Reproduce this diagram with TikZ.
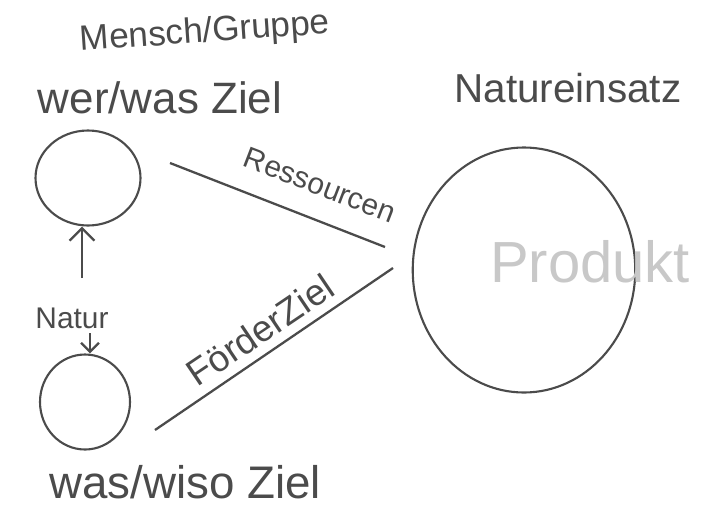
\documentclass[tikz,border=0pt]{standalone}
\usepackage{fontspec}
\setmainfont{Liberation Sans}
\usepackage{tikz}
\usepackage{xcolor}
\usetikzlibrary{positioning, arrows.meta, shapes.geometric}
\definecolor{pencil}{RGB}{75, 75, 75}
\definecolor{faint}{RGB}{200, 200, 200}
\tikzset{
    blob/.style={ellipse, draw=pencil, line width=1.2pt},
    scribble/.style={text=pencil, inner sep=1pt},
    stroke/.style={draw=pencil, line width=1.3pt},
    pointer/.style={stroke, -{Straight Barb[length=2.5mm]}}
}

\begin{document}
\begin{tikzpicture}
    \useasboundingbox (0,0) rectangle (14.3,10.12);
    % the three circles
    \node[blob, minimum width=2.1cm, minimum height=1.9cm] (wer) at (1.76,6.56) {};
    \node[blob, minimum width=1.8cm, minimum height=1.9cm] (was) at (1.70,2.08) {};
    \node[blob, minimum width=4.45cm, minimum height=4.9cm] (prod) at (10.48,4.72) {};

    % headings
    \node[scribble, font=\fontsize{20}{24}\selectfont, rotate=4] (gruppe) at (4.1,9.46) {Mensch/Gruppe};
    \node[scribble, font=\fontsize{25}{30}\selectfont] (werziel) at (3.2,8.16) {wer/was Ziel};
    \node[scribble, font=\fontsize{26}{30}\selectfont] (wasziel) at (3.7,0.48) {was/wiso Ziel};
    \node[scribble, font=\fontsize{23}{28}\selectfont] (einsatz) at (11.36,8.36) {Natureinsatz};
    \node[text=faint, font=\fontsize{33}{38}\selectfont] (produkt) at (11.8,4.88) {Produkt};

    % Natur between the two small circles
    \node[scribble, font=\fontsize{17}{20}\selectfont] (natur) at (1.44,3.76) {Natur};
    \coordinate (up) at (1.64,4.56);
    \coordinate (dn) at (1.8,3.46);
    \draw[pointer] (up) -- (up |- wer.south);
    \draw[pointer, -{Straight Barb[length=1.8mm]}] (dn) -- (dn |- was.north);

    % the two lines toward the product
    \coordinate (r1) at (3.4,6.86);
    \coordinate (r2) at (7.7,5.18);
    \coordinate (f1) at (3.1,1.52);
    \coordinate (f2) at (7.86,4.76);
    \draw[stroke] (r1) -- (r2);
    \draw[stroke] (f1) -- (f2);
    \node[scribble, font=\fontsize{17}{20}\selectfont, rotate=-21] (res) at (6.4,6.42) {Ressourcen};
    \node[scribble, font=\fontsize{21}{24}\selectfont, rotate=34] (foerder) at (5.2,3.52) {FörderZiel};
\end{tikzpicture}
\end{document}
